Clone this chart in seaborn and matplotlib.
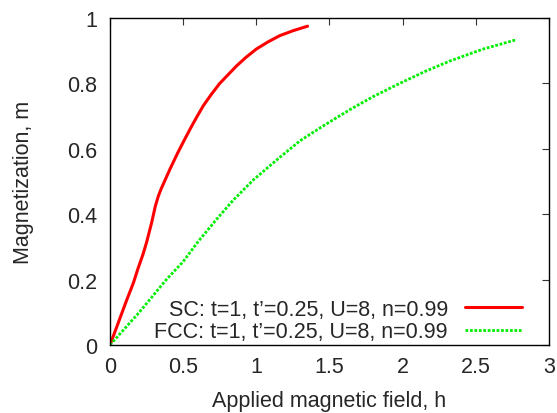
import matplotlib
matplotlib.use("Agg")
import matplotlib.pyplot as plt
import seaborn as sns
import pandas as pd

# Magnetization curves m(h)
sc_h = [0.0, 0.05, 0.112, 0.16, 0.19, 0.226, 0.25, 0.285, 0.31, 0.33, 0.35,
        0.38, 0.41, 0.46, 0.50, 0.547, 0.59, 0.638, 0.69, 0.75, 0.81, 0.866,
        0.93, 1.0, 1.08, 1.16, 1.25, 1.35]
sc_m = [0.0, 0.06, 0.135, 0.19, 0.232, 0.278, 0.314, 0.375, 0.425, 0.455, 0.478,
        0.508, 0.538, 0.585, 0.62, 0.66, 0.695, 0.732, 0.765, 0.80, 0.828, 0.854,
        0.88, 0.905, 0.927, 0.946, 0.961, 0.975]

fcc_h = [0.0, 0.1, 0.2, 0.385, 0.5, 0.6, 0.72, 0.84, 0.98, 1.15, 1.30, 1.45,
         1.64, 1.8, 1.98, 2.15, 2.32, 2.55, 2.78]
fcc_m = [0.0, 0.05, 0.10, 0.20, 0.255, 0.315, 0.38, 0.442, 0.505, 0.57, 0.625,
         0.668, 0.72, 0.76, 0.80, 0.836, 0.868, 0.905, 0.934]

sc_label = "SC: t=1, t\u2019=0.25, U=8, n=0.99"
fcc_label = "FCC: t=1, t\u2019=0.25, U=8, n=0.99"

x_ticks = [0, 0.5, 1, 1.5, 2, 2.5, 3]
x_tick_labels = ["0", "0.5", "1", "1.5", "2", "2.5", "3"]
y_ticks = [0, 0.2, 0.4, 0.6, 0.8, 1]
y_tick_labels = ["0", "0.2", "0.4", "0.6", "0.8", "1"]

FS = 15.5

sns.set_style("white")
plt.rcParams["font.family"] = ["Liberation Sans", "DejaVu Sans"]
plt.rcParams["font.size"] = FS

fig = plt.figure(figsize=(5.57, 4.14), dpi=100)
ax = fig.add_axes([0.1975, 0.1643, 0.7881, 0.7898])

sc_df = pd.DataFrame({"h": sc_h, "m": sc_m})
fcc_df = pd.DataFrame({"h": fcc_h, "m": fcc_m})

sns.lineplot(data=sc_df, x="h", y="m", ax=ax, sort=False, color="#ff0000",
             linewidth=2.2, label=sc_label)
sns.lineplot(data=fcc_df, x="h", y="m", ax=ax, sort=False, color="#00ee00",
             linewidth=2.0, linestyle=(0, (1, 0.6)), label=fcc_label)

ax.set_xlim(0, 3)
ax.set_ylim(0, 1)
ax.set_xticks(x_ticks)
ax.set_xticklabels(x_tick_labels)
ax.set_yticks(y_ticks)
ax.set_yticklabels(y_tick_labels)
ax.tick_params(direction="in", length=5, width=0.8, top=True, right=True,
               labelsize=FS, color="#333333")
ax.tick_params(axis="x", pad=8)
ax.tick_params(axis="y", pad=9)
for s in ax.spines.values():
    s.set_visible(True)
    s.set_linewidth(1.0)
    s.set_color("black")

ax.set_xlabel("Applied magnetic field, h", fontsize=FS, labelpad=9)
ax.set_ylabel("Magnetization, m", fontsize=FS, labelpad=24)

leg = ax.legend(loc="lower right", markerfirst=False, frameon=False,
                fontsize=FS, handlelength=2.65, handletextpad=0.8,
                labelspacing=0.05, borderaxespad=0.0, borderpad=0.0,
                bbox_to_anchor=(0.939, 0.009))

fig.savefig("out.png", dpi=100)
